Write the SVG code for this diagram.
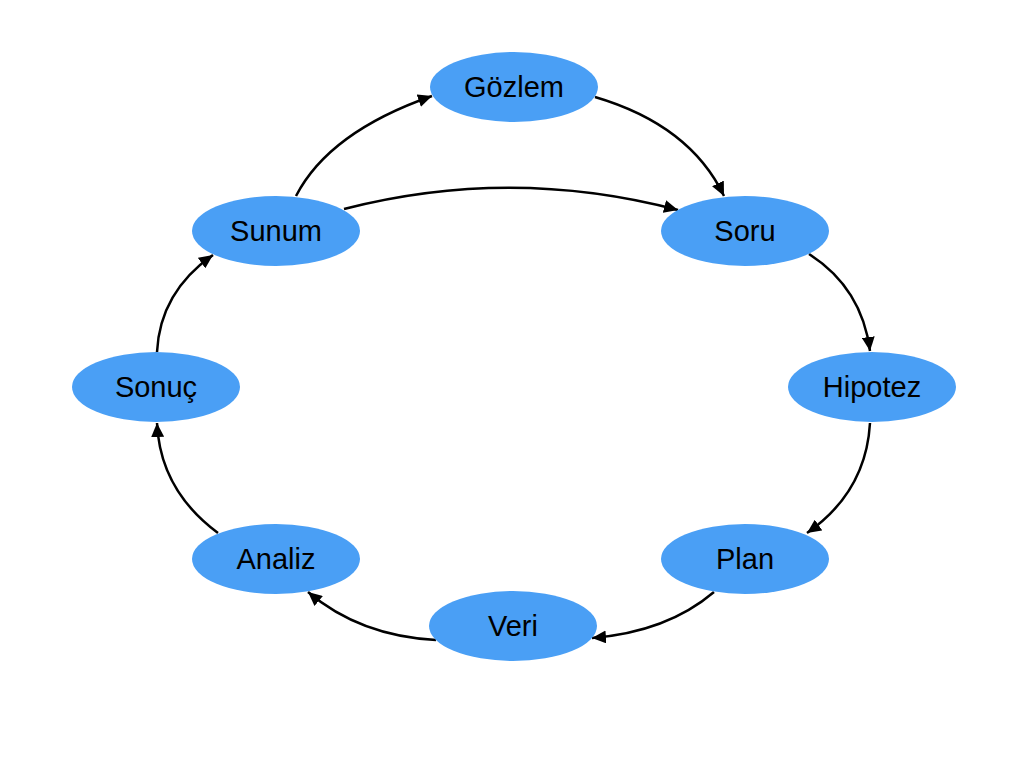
<svg xmlns="http://www.w3.org/2000/svg" width="1024" height="768" viewBox="0 0 1024 768">
<style>
.node ellipse{fill:#4A9FF5;stroke:none}
.node text{font-family:"Liberation Sans",Arial,sans-serif;font-size:29px;fill:#000;text-anchor:middle}
.edges path{fill:none;stroke:#000;stroke-width:2.5;marker-end:url(#arr)}
</style>
<defs>
<marker id="arr" markerUnits="userSpaceOnUse" markerWidth="15" markerHeight="13" refX="14" refY="6.5" orient="auto">
<path d="M0,0 L14,6.5 L0,13 z" fill="#000"/>
</marker>
</defs>
<rect width="1024" height="768" fill="#fff"/>
<g class="edges">
<path d="M296,196 Q329,132 432,96"/>
<path d="M595,97 Q690,125 724,196"/>
<path d="M344,209 Q511,166 678,210"/>
<path d="M809,254 Q862,288 870,351"/>
<path d="M870,423 Q866,492 807,533"/>
<path d="M714,592 Q667,632 592,638"/>
<path d="M436,640 Q360,636 308,592"/>
<path d="M218,533 Q160,490 157,423"/>
<path d="M157,352 Q160,292 213,255"/>
</g>
<g id="gozlem" class="node"><ellipse cx="514" cy="87" rx="84" ry="35"/><text x="514" y="97">Gözlem</text></g>
<g id="soru" class="node"><ellipse cx="745" cy="231" rx="84" ry="35"/><text x="745" y="241">Soru</text></g>
<g id="hipotez" class="node"><ellipse cx="872" cy="387" rx="84" ry="35"/><text x="872" y="397">Hipotez</text></g>
<g id="plan" class="node"><ellipse cx="745" cy="559" rx="84" ry="35"/><text x="745" y="569">Plan</text></g>
<g id="veri" class="node"><ellipse cx="513" cy="626" rx="84" ry="35"/><text x="513" y="636">Veri</text></g>
<g id="analiz" class="node"><ellipse cx="276" cy="559" rx="84" ry="35"/><text x="276" y="569">Analiz</text></g>
<g id="sonuc" class="node"><ellipse cx="156" cy="387" rx="84" ry="35"/><text x="156" y="397">Sonuç</text></g>
<g id="sunum" class="node"><ellipse cx="276" cy="231" rx="84" ry="35"/><text x="276" y="241">Sunum</text></g>
</svg>
